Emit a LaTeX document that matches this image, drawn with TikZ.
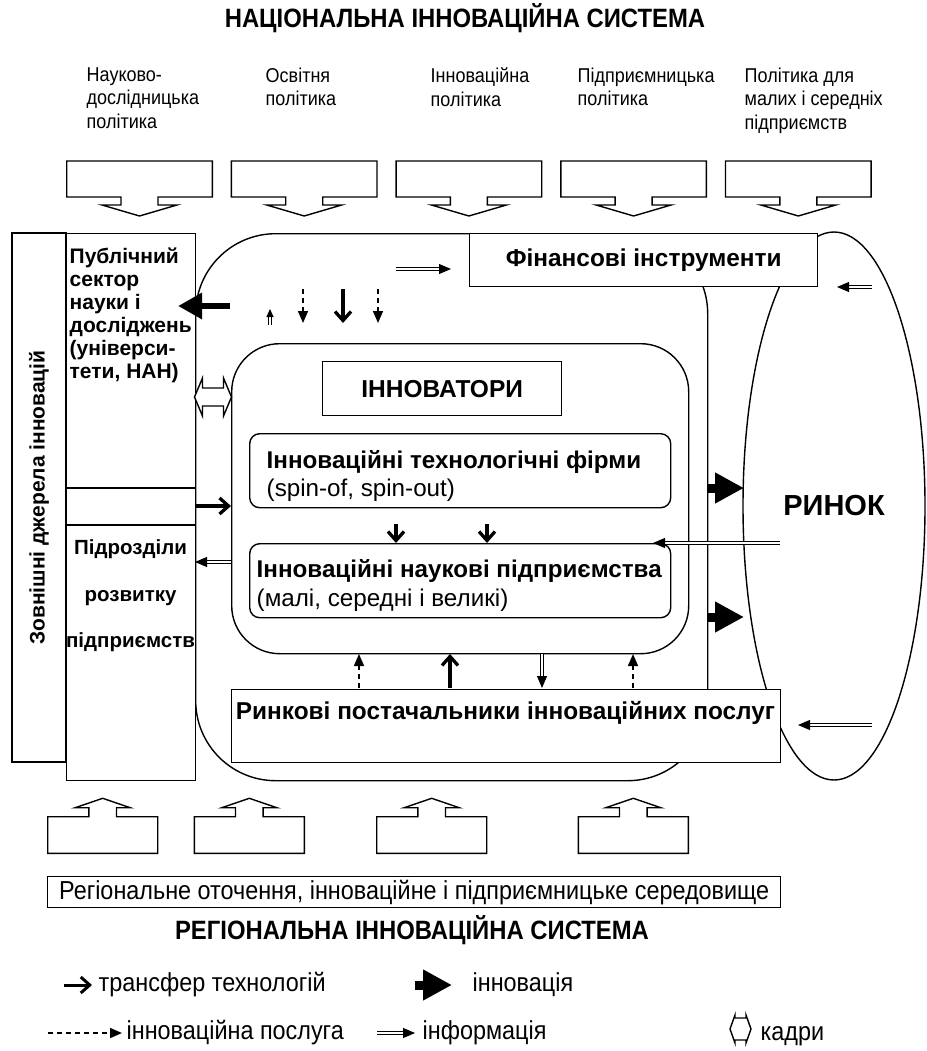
\documentclass[tikz,border=0pt]{standalone}
\usepackage{fontspec}
\setmainfont{Liberation Sans}
\newfontfamily\narrowf{Liberation Sans}[FakeStretch=0.9]
\usetikzlibrary{arrows.meta,shapes.geometric}
\begin{document}
\begin{tikzpicture}[x=1pt,y=-1pt,line width=1.4pt,
  box/.style={draw,fill=white,inner sep=0pt,line width=1.4pt},
  rbox/.style={box,rounded corners=10pt},
  btxt/.style={font=\fontsize{21}{23}\selectfont\bfseries,inner sep=0pt},
  bigtxt/.style={font=\fontsize{24.4}{28}\selectfont\bfseries,inner sep=0pt},
  poltxt/.style={font=\narrowf\fontsize{20}{23.5}\selectfont,align=left,inner sep=0pt,anchor=north west},
  titletxt/.style={font=\narrowf\fontsize{26.5}{30}\selectfont\bfseries,inner sep=0pt},
  legtxt/.style={font=\narrowf\fontsize{26}{30}\selectfont,inner sep=0pt,anchor=west},
  transfer/.style={line width=3.3pt,-{Straight Barb[length=9pt,width=16pt]}},
  service/.style={line width=1.6pt,dash pattern=on 5pt off 4pt,-{Triangle[length=12pt,width=10pt]}},
  info/.style={double,double distance=2.2pt,line width=1pt,-{Triangle[length=12pt,width=10pt]}},
  innovation/.style={line width=9pt,-{Triangle[length=29pt,width=29pt]}},
  blockarrow/.style={draw,fill=white,line width=1.4pt,line join=miter},
]
\path[fill=white] (0,0) rectangle (926,1051);
\useasboundingbox (0,0) rectangle (926,1051);

% titles and policies
\node[titletxt] (nat) at (465,18) {НАЦІОНАЛЬНА ІННОВАЦІЙНА СИСТЕМА};
\node[poltxt] (p1) at (86,67) {Науково-\\дослідницька\\політика};
\node[poltxt] (p2) at (265,67) {Освітня\\політика};
\node[poltxt] (p3) at (430,67) {Інноваційна\\політика};
\node[poltxt] (p4) at (577,67) {Підприємницька\\політика};
\node[poltxt] (p5) at (744,67) {Політика для\\малих і середніх\\підприємств};

\foreach \x in {66.7,231.4,396.1,560.8,725.5} {
  \draw[blockarrow] (\x,161) -- ({\x+145.6},161) -- ({\x+145.6},197) -- ({\x+91.3},197) -- ({\x+91.3},205) -- ({\x+110.3},205) -- ({\x+72.8},216) -- ({\x+35.3},205) -- ({\x+54.3},205) -- ({\x+54.3},197) -- (\x,197) -- cycle;
}

% outer system and market
\node[draw,rounded corners=80pt,minimum width=512,minimum height=547,anchor=north west,inner sep=0pt] (sys) at (195,233) {};
\node[draw,ellipse,minimum width=182,minimum height=548,inner sep=0pt,font=\fontsize{29}{32}\selectfont\bfseries] (mkt) at (834,506) {РИНОК};

\node[box,bigtxt,minimum width=348,minimum height=53,anchor=north west] (fin) at (469,233) {Фінансові інструменти};
\node[box,minimum width=549,minimum height=73,anchor=north west] (prov) at (231,689) {};
\node[bigtxt] (provtxt) at (505.5,713) {Ринкові постачальники інноваційних послуг};

% left columns
\node[box,minimum width=129,minimum height=547,anchor=north west] (pub) at (66,233) {};
\draw (66,488) -- (195,488);
\draw (66,525) -- (195,525);
\node[btxt,anchor=north west,align=left] (pubtxt) at (69,247) {Публічний\\сектор\\науки і\\досліджень\\(універси-\\тети, НАН)};
\node[btxt,anchor=north,align=center,font=\fontsize{20.5}{46.5}\selectfont\bfseries] (devtxt) at (130.5,539) {Підрозділи\\розвитку\\підприємств};
\node[box,btxt,rotate=90,minimum width=529,minimum height=54] (ext) at (39,497.5) {Зовнішні джерела інновацій};

% innovators
\node[draw,rounded corners=48pt,minimum width=457,minimum height=310,anchor=north west,inner sep=0pt] (inn) at (231,343) {};
\node[box,minimum width=239,minimum height=54,anchor=north west,font=\fontsize{24.5}{28}\selectfont\bfseries] (inv) at (322,361) {ІННОВАТОРИ};
\node[rbox,minimum width=421,minimum height=74,anchor=north west] (tech) at (249,433) {};
\node[anchor=north west,align=left,inner sep=0pt,font=\fontsize{24.2}{28}\selectfont] (techtxt) at (266,450) {\textbf{Інноваційні технологічні фірми}\\(spin-of, spin-out)};
\node[rbox,minimum width=421,minimum height=74,anchor=north west] (sci) at (249,543) {};
\node[anchor=north west,align=left,inner sep=0pt,font=\fontsize{24.2}{29}\selectfont] (scitxt) at (256,559) {\textbf{Інноваційні наукові підприємства}\\(малі, середні і великі)};

% arrows top
\draw[line width=6pt,-{Triangle[length=24pt,width=25pt]}] (230,306) -- (178,306);
\draw[info] (396,269) -- (451,269);
\draw[info,-{Triangle[length=8pt,width=7pt]}] (270,325) -- (270,309);
\draw[service] (303,289) -- (303,323);
\draw[transfer] (343,289) -- (343,323);
\draw[service] (378,289) -- (378,323);

% kadry
\draw[blockarrow] (194.5,397) -- (202.5,378) -- (202.5,388) -- (223.5,388) -- (223.5,378) -- (231.5,397) -- (223.5,416) -- (223.5,406) -- (202.5,406) -- (202.5,416) -- cycle;

\draw[transfer] (195,506) -- (231,506);
\draw[info] (231,562) -- (195,562);
\draw[transfer] (396,524) -- (396,543);
\draw[transfer] (487,524) -- (487,543);
\draw[info] (780,543) -- (653,543);
\draw[innovation] (707,488) -- (744,488);
\draw[innovation] (707,617) -- (744,617);
\draw[info] (872,287) -- (837,287);
\draw[info] (872,725) -- (798,725);

% bottom arrows between innovators and providers
\draw[service] (359,688) -- (359,654);
\draw[transfer] (450,688) -- (450,654);
\draw[info] (542,654) -- (542,688);
\draw[service] (633,688) -- (633,654);

% bottom block arrows
\foreach \x in {47.7,194.3,376.7,578.3} {
  \draw[blockarrow] (\x,853.3) -- (\x,816.7) -- ({\x+41.2},816.7) -- ({\x+41.2},807.7) -- ({\x+27.5},807.7) -- ({\x+55},798.3) -- ({\x+82.5},807.7) -- ({\x+68.8},807.7) -- ({\x+68.8},816.7) -- ({\x+110},816.7) -- ({\x+110},853.3) -- cycle;
}

\node[draw,minimum width=733,minimum height=31,anchor=north west,inner sep=0pt,font=\narrowf\fontsize{26}{30}\selectfont] (reg) at (47,876) {Регіональне оточення, інноваційне і підприємницьке середовище};
\node[titletxt] (regt) at (412,930) {РЕГІОНАЛЬНА ІННОВАЦІЙНА СИСТЕМА};

% legend
\draw[transfer,line width=3pt] (64,985) -- (92,985);
\node[legtxt] (l1t) at (98,985) {трансфер технологій};
\draw[innovation] (415,985) -- (452,985);
\node[legtxt] (l2t) at (472,985) {інновація};
\draw[service] (48,1033) -- (122,1033);
\node[legtxt] (l3t) at (126,1033) {інноваційна послуга};
\draw[info] (377,1033) -- (415,1033);
\node[legtxt] (l4t) at (422,1033) {інформація};
\draw[blockarrow] (730,1029) -- (735,1015) -- (735,1018) -- (746,1018) -- (746,1015) -- (751,1029) -- (746,1043) -- (746,1040) -- (735,1040) -- (735,1043) -- cycle;
\node[legtxt] (l5t) at (760,1036) {кадри};
\end{tikzpicture}
\end{document}
